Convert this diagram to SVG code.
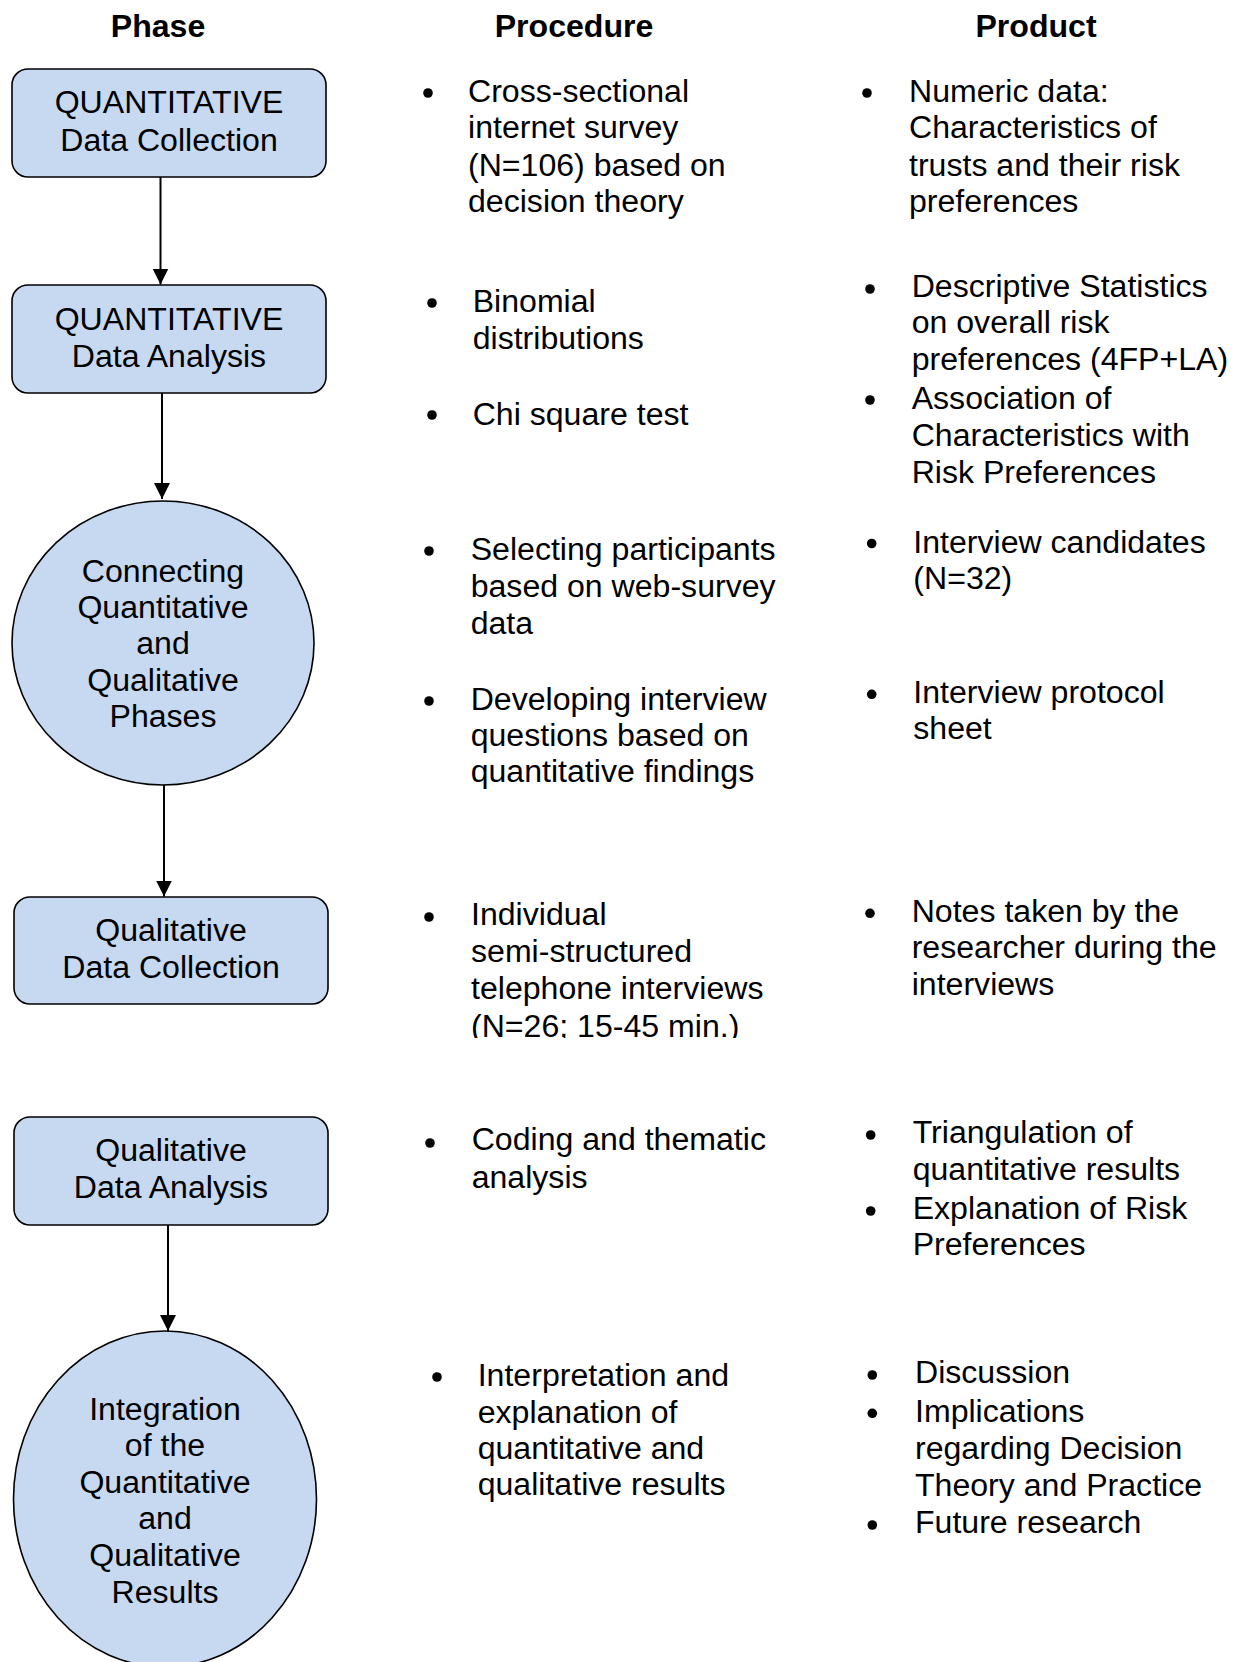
<svg xmlns="http://www.w3.org/2000/svg" width="1245" height="1662" viewBox="0 0 1245 1662">
<style>
text{font-family:"Liberation Sans",Arial,sans-serif;font-size:32.1px;fill:#000}
.h{font-weight:bold;text-anchor:middle}
.c{text-anchor:middle}
.node{fill:#c6d9f1;stroke:#000;stroke-width:1.6}
.arrow{stroke:#000;stroke-width:2;fill:none;marker-end:url(#ah)}
.dot{fill:#000}
</style>
<defs>
<marker id="ah" markerUnits="userSpaceOnUse" markerWidth="18" markerHeight="18" refX="16" refY="9" orient="auto" viewBox="0 0 18 18">
<path d="M0,1 L16,9 L0,17 z" fill="#000"/>
</marker>
<clipPath id="clipP6"><rect x="440" y="880" width="380" height="158"/></clipPath>
</defs>
<rect width="1245" height="1662" fill="#fff"/>

<g id="headers">
<text class="h" x="158" y="36.5">Phase</text>
<text class="h" x="574" y="36.5">Procedure</text>
<text class="h" x="1036" y="36.5">Product</text>
</g>

<g id="connectors">
<line class="arrow" x1="160.5" y1="177" x2="160.5" y2="284.5"/>
<line class="arrow" x1="162" y1="393" x2="162" y2="499"/>
<line class="arrow" x1="164" y1="785" x2="164" y2="896.5"/>
<line class="arrow" x1="168" y1="1225" x2="168" y2="1331"/>
</g>

<g id="n1">
<rect class="node" x="12" y="69" width="314" height="108" rx="16"/>
<text class="c" x="169" y="113">QUANTITATIVE</text>
<text class="c" x="169" y="150.5">Data Collection</text>
</g>
<g id="n2">
<rect class="node" x="12" y="285" width="314" height="108" rx="16"/>
<text class="c" x="169" y="330">QUANTITATIVE</text>
<text class="c" x="169" y="367">Data Analysis</text>
</g>
<g id="n3">
<ellipse class="node" cx="163" cy="643" rx="151" ry="142"/>
<text class="c" x="163" y="582">Connecting</text>
<text class="c" x="163" y="618">Quantitative</text>
<text class="c" x="163" y="654">and</text>
<text class="c" x="163" y="691">Qualitative</text>
<text class="c" x="163" y="727">Phases</text>
</g>
<g id="n4">
<rect class="node" x="14" y="897" width="314" height="107" rx="16"/>
<text class="c" x="171" y="940.5">Qualitative</text>
<text class="c" x="171" y="978">Data Collection</text>
</g>
<g id="n5">
<rect class="node" x="14" y="1117" width="314" height="108" rx="16"/>
<text class="c" x="171" y="1161">Qualitative</text>
<text class="c" x="171" y="1198">Data Analysis</text>
</g>
<g id="n6">
<ellipse class="node" cx="165" cy="1499" rx="151.5" ry="168"/>
<text class="c" x="165" y="1419.5">Integration</text>
<text class="c" x="165" y="1456">of the</text>
<text class="c" x="165" y="1493">Quantitative</text>
<text class="c" x="165" y="1529">and</text>
<text class="c" x="165" y="1566">Qualitative</text>
<text class="c" x="165" y="1603">Results</text>
</g>

<g id="procedure">
<circle class="dot" cx="428" cy="93" r="4.8"/>
<text x="468" y="101.5">Cross-sectional</text>
<text x="468" y="138.3">internet survey</text>
<text x="468" y="175.5">(N=106) based on</text>
<text x="468" y="211.7">decision theory</text>

<circle class="dot" cx="432" cy="303" r="4.8"/>
<text x="472.7" y="311.7">Binomial</text>
<text x="472.7" y="349">distributions</text>

<circle class="dot" cx="432" cy="415" r="4.8"/>
<text x="472.7" y="425">Chi square test</text>

<circle class="dot" cx="429" cy="551" r="4.8"/>
<text x="470.7" y="560">Selecting participants</text>
<text x="470.7" y="597">based on web-survey</text>
<text x="470.7" y="633.5">data</text>

<circle class="dot" cx="429" cy="701" r="4.8"/>
<text x="470.7" y="709.5">Developing interview</text>
<text x="470.7" y="745.5">questions based on</text>
<text x="470.7" y="782">quantitative findings</text>

<circle class="dot" cx="429" cy="917" r="4.8"/>
<g clip-path="url(#clipP6)">
<text x="471" y="925">Individual</text>
<text x="471" y="962">semi-structured</text>
<text x="471" y="999">telephone interviews</text>
<text x="471" y="1036.5">(N=26; 15-45 min.)</text>
</g>

<circle class="dot" cx="430" cy="1143" r="4.8"/>
<text x="471.7" y="1150">Coding and thematic</text>
<text x="471.7" y="1188">analysis</text>

<circle class="dot" cx="437" cy="1377" r="4.8"/>
<text x="477.7" y="1386">Interpretation and</text>
<text x="477.7" y="1422.7">explanation of</text>
<text x="477.7" y="1459.3">quantitative and</text>
<text x="477.7" y="1495">qualitative results</text>
</g>

<g id="product">
<circle class="dot" cx="867" cy="93" r="4.8"/>
<text x="909" y="101.5">Numeric data:</text>
<text x="909" y="138.3">Characteristics of</text>
<text x="909" y="175.5">trusts and their risk</text>
<text x="909" y="211.7">preferences</text>

<circle class="dot" cx="870" cy="289" r="4.8"/>
<text x="911.7" y="296.7">Descriptive Statistics</text>
<text x="911.7" y="333.3">on overall risk</text>
<text x="911.7" y="370">preferences (4FP+LA)</text>

<circle class="dot" cx="870" cy="400" r="4.8"/>
<text x="911.7" y="409.3">Association of</text>
<text x="911.7" y="446">Characteristics with</text>
<text x="911.7" y="482.7">Risk Preferences</text>

<circle class="dot" cx="871.7" cy="543.5" r="4.8"/>
<text x="913.3" y="552.7">Interview candidates</text>
<text x="913.3" y="589.3">(N=32)</text>

<circle class="dot" cx="871.7" cy="694.3" r="4.8"/>
<text x="913.3" y="702.7">Interview protocol</text>
<text x="913.3" y="739.3">sheet</text>

<circle class="dot" cx="870" cy="913.3" r="4.8"/>
<text x="911.7" y="921.7">Notes taken by the</text>
<text x="911.7" y="958.3">researcher during the</text>
<text x="911.7" y="995">interviews</text>

<circle class="dot" cx="870.7" cy="1135" r="4.8"/>
<text x="912.7" y="1143.3">Triangulation of</text>
<text x="912.7" y="1180">quantitative results</text>

<circle class="dot" cx="870.7" cy="1211" r="4.8"/>
<text x="912.7" y="1219.3">Explanation of Risk</text>
<text x="912.7" y="1255">Preferences</text>

<circle class="dot" cx="872.3" cy="1375" r="4.8"/>
<text x="915" y="1383.3">Discussion</text>

<circle class="dot" cx="872.3" cy="1413.3" r="4.8"/>
<text x="915" y="1421.7">Implications</text>
<text x="915" y="1459.3">regarding Decision</text>
<text x="915" y="1496">Theory and Practice</text>

<circle class="dot" cx="872.3" cy="1525" r="4.8"/>
<text x="915" y="1533.3">Future research</text>
</g>
</svg>
